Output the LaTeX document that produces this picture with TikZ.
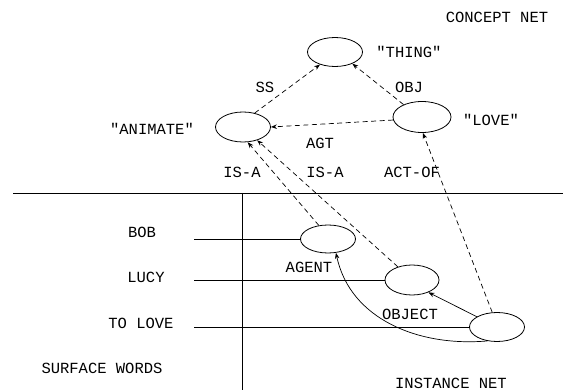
\documentclass[tikz,border=0pt]{standalone}
\usepackage{fontspec}
\setmainfont{Liberation Mono}[Ligatures=TeXOff]
\usepackage{tikz}
\usetikzlibrary{shapes.geometric,arrows.meta}

\begin{document}
\begin{tikzpicture}[x=1pt,y=-1pt,
    font=\fontsize{15.5}{17}\selectfont,
    concept/.style={draw, ellipse, line width=0.8pt, inner sep=0pt, minimum width=55pt, minimum height=29pt},
    link/.style={line width=0.7pt, dash pattern=on 5pt off 3.5pt, -{Stealth[length=6pt,width=4.5pt]}},
    role/.style={line width=0.7pt, -{Stealth[length=6pt,width=4.5pt]}},
    word/.style={line width=0.6pt},
    lbl/.style={inner sep=0pt}]
    \useasboundingbox (0,0) rectangle (563,390);
    % dividers
    \draw[line width=0.8pt] (13,193) -- (563,193);
    \draw[line width=0.8pt] (242,193) -- (242,390);
    % concept net
    \node[concept] (thing) at (335,52) {};
    \node[concept, minimum height=30pt] (anim) at (243,127) {};
    \node[concept, minimum width=58pt, minimum height=31pt] (love) at (422,117) {};
    % instance net
    \node[concept, minimum height=28pt] (bob) at (328,239) {};
    \node[concept, minimum width=54pt, minimum height=30pt] (lucy) at (412,280) {};
    \node[concept] (tolove) at (497,327) {};
    % surface word lines
    \coordinate (wbob) at (194,239);
    \coordinate (wlucy) at (194,280);
    \coordinate (wlove) at (194,327);
    \draw[word] (wbob) -- (bob.west);
    \draw[word] (wlucy) -- (lucy.west);
    \draw[word] (wlove) -- (tolove.west);
    % labels
    \node[lbl] (cnet) at (497,17) {CONCEPT NET};
    \node[lbl] (lthing) at (409,52) {"THING"};
    \node[lbl] (lanim) at (152,129) {"ANIMATE"};
    \node[lbl] (llove) at (491,120) {"LOVE"};
    \node[lbl] (ss) at (265,87) {SS};
    \node[lbl] (obj) at (409,87) {OBJ};
    \node[lbl] (agt) at (320,143) {AGT};
    \node[lbl] (isa1) at (242,172) {IS-A};
    \node[lbl] (isa2) at (325,172) {IS-A};
    \node[lbl] (actof) at (412,172) {ACT-OF};
    \node[lbl] (lbob) at (142,232) {BOB};
    \node[lbl] (llucy) at (146,277) {LUCY};
    \node[lbl] (ltolove) at (141,323) {TO LOVE};
    \node[lbl] (surf) at (102,368) {SURFACE WORDS};
    \node[lbl] (inet) at (451,383) {INSTANCE NET};
    \node[lbl] (agent) at (309,267) {AGENT};
    \node[lbl] (object) at (410,314) {OBJECT};
    % concept links
    \draw[link] (anim.50) -- (thing.220);
    \draw[link] (love.146) -- (thing.-34);
    \draw[link] (love.186) -- (anim.east);
    \draw[link] (bob.124) -- (anim.-73);
    \draw[link] (lucy.137) -- (anim.-43);
    \draw[link] (tolove.108) -- (love.-87);
    % case roles
    \draw[role] (tolove.153) -- (lucy.-37);
    \draw[role] (tolove.235) to[out=185,in=-78] (bob.-60);
\end{tikzpicture}
\end{document}
